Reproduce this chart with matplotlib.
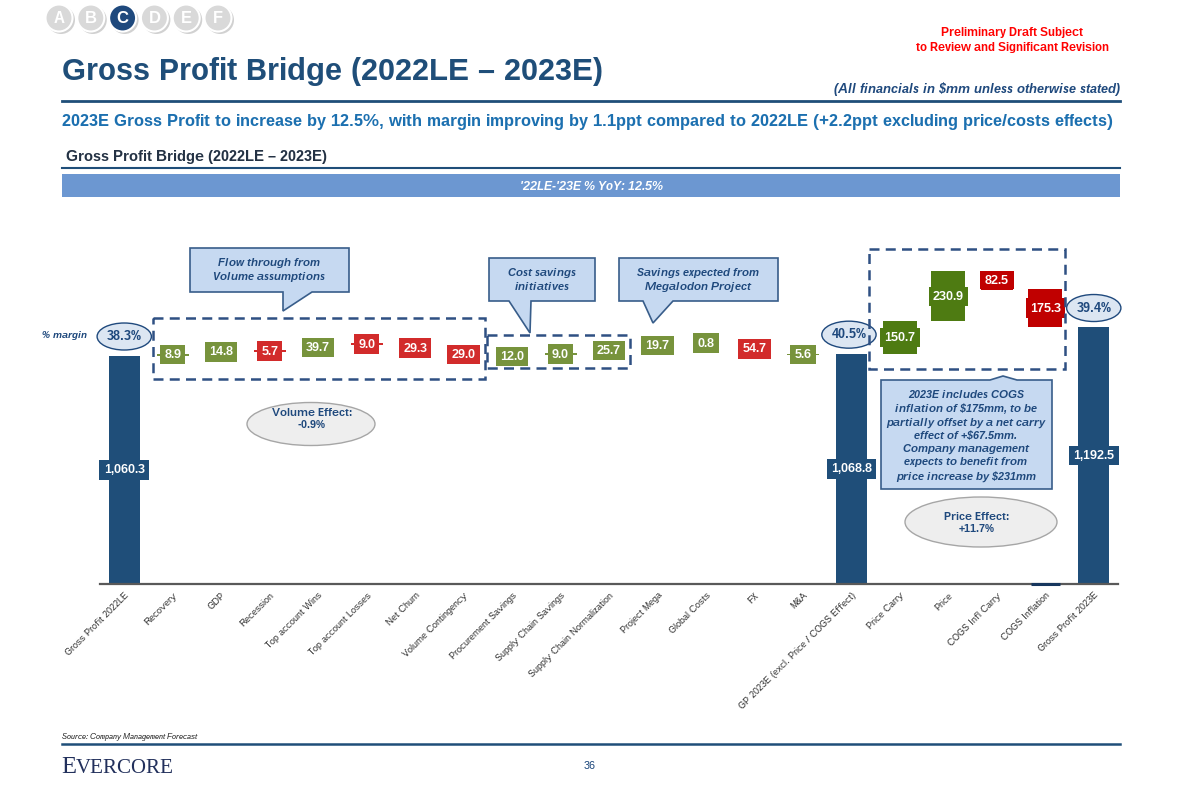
import matplotlib
matplotlib.use('Agg')
import matplotlib.pyplot as plt
import numpy as np
from matplotlib.patches import Rectangle, Ellipse, Polygon, Circle

plt.rcParams['font.family'] = ['Liberation Sans', 'DejaVu Sans']
plt.rcParams['text.hinting'] = 'default'
plt.rcParams['text.hinting_factor'] = 1

# ---------------- data ----------------
categories = ['Gross Profit 2022LE', 'Recovery', 'GDP', 'Recession', 'Top account Wins',
              'Top account Losses', 'Net Churn', 'Volume Contingency', 'Procurement Savings',
              'Supply Chain Savings', 'Supply Chain Normalization', 'Project Mega', 'Global Costs',
              'FX', 'M&A', 'GP 2023E (excl. Price / COGS Effect)', 'Price Carry', 'Price',
              'COGS Infl Carry', 'COGS Inflation', 'Gross Profit 2023E']
values = [1060.3, 8.9, 14.8, -5.7, 39.7, -9.0, -29.3, -29.0, 12.0, 9.0, 25.7, 19.7, 0.8,
          -54.7, 5.6, 1068.8, 150.7, 230.9, -82.5, -175.3, 1192.5]
total_flags = [1, 0, 0, 0, 0, 0, 0, 0, 0, 0, 0, 0, 0, 0, 0, 1, 0, 0, 0, 0, 1]
margin_labels = ['38.3%', '40.5%', '39.4%']
yoy_label = "'22LE-'23E % YoY: 12.5%"
volume_effect = 'Volume Effect:\n-0.9%'
price_effect = 'Price Effect:\n+11.7%'

# ---------------- style ----------------
NAVY = '#1F4E79'
TXT_BLUE = '#1F497D'
G_SMALL = '#77933C'
R_SMALL = '#D22B2B'
G_BIG = '#4E7B12'
R_BIG = '#C00000'
price_start = 16

W, H = 1180, 786
fig = plt.figure(figsize=(W / 100, H / 100), dpi=100, facecolor='white')

px_per_unit = 0.2155
ax_left, ax_right, ax_base, ax_top = 100, 1118, 584, 230
ax = fig.add_axes([ax_left / W, (H - ax_base) / H, (ax_right - ax_left) / W, (ax_base - ax_top) / H])
ax.set_xlim(-0.5, len(categories) - 0.5)
ax.set_ylim(0, (ax_base - ax_top) / px_per_unit)
for s in ['top', 'right', 'left']:
    ax.spines[s].set_visible(False)
ax.spines['bottom'].set_color('#595959')
ax.spines['bottom'].set_linewidth(1.6)
ax.set_yticks([])
ax.set_xticks(np.arange(len(categories)))
ax.set_xticklabels(categories, rotation=45, ha='right', va='top', rotation_mode='anchor',
                   fontsize=6.8, color='#262626')
ax.tick_params(axis='x', length=0, pad=5)
ax.set_facecolor('none')

running = 0.0
bottoms, heights, colors = [], [], []
for i, (v, t) in enumerate(zip(values, total_flags)):
    if t:
        b, h, c = 0.0, v, NAVY
        running = v
    else:
        if v >= 0:
            b, h = running, v
            c = G_BIG if i >= price_start else G_SMALL
        else:
            b, h = running + v, -v
            c = R_BIG if i >= price_start else R_SMALL
        running += v
    bottoms.append(b); heights.append(h); colors.append(c)

x = np.arange(len(categories))
widths = [0.64 if t else (0.7 if i >= price_start else 0.66) for i, t in enumerate(total_flags)]
ax.bar(x, heights, bottom=bottoms, width=widths, color=colors, edgecolor='none', zorder=2)

for i in range(len(categories)):
    v = values[i]
    lab = '{:,.1f}'.format(abs(v))
    ax.text(i, bottoms[i] + heights[i] / 2, lab, ha='center', va='center', color='white',
            fontsize=8.5, fontweight='bold', zorder=4,
            bbox=dict(boxstyle='square,pad=0.36', fc=colors[i], ec='none'))

# small dark mark at base under COGS Inflation
ax.plot([18.7, 19.3], [0, 0], color='#17375E', lw=2.2, solid_capstyle='butt', zorder=3, clip_on=False)

# margin ellipses above totals
tot_idx = [i for i, t in enumerate(total_flags) if t]
for k, i in enumerate(tot_idx):
    cy = values[i] + 19 / px_per_unit
    cx = i - (0.05 if k == 1 else 0)
    e = Ellipse((cx, cy), width=1.12, height=27 / px_per_unit,
                fc='#DCE6F2', ec=TXT_BLUE, lw=1.0, zorder=5, clip_on=False)
    ax.add_patch(e)
    ax.text(cx, cy, margin_labels[k], ha='center', va='center',
            fontsize=9.5, fontweight='bold', color=TXT_BLUE, zorder=6)

# ---------------- overlay (pixel coordinates) ----------------
ov = fig.add_axes([0, 0, 1, 1], facecolor='none')
ov.set_xlim(0, W); ov.set_ylim(H, 0); ov.axis('off')

# tab circles
letters = ['A', 'B', 'C', 'D', 'E', 'F']
for j, L in enumerate(letters):
    cx = 59 + j * 31.8
    ov.add_patch(Circle((cx + 2, 20), 14, fc='#9A9A9A', ec='none', alpha=0.45))
    fc = '#1F497D' if L == 'C' else '#D9D9D9'
    ov.add_patch(Circle((cx, 18), 13.5, fc=fc, ec='white', lw=1.5))
    ov.text(cx, 18.5, L, ha='center', va='center', color='white', fontsize=11.5, fontweight='bold')

ov.text(1012, 40, 'Preliminary Draft Subject\nto Review and Significant Revision', ha='center',
        va='center', color='#FF0000', fontsize=8.9, fontweight='bold', linespacing=1.42)
ov.text(62, 71, 'Gross Profit Bridge (2022LE \u2013 2023E)', ha='left', va='center',
        color=NAVY, fontsize=22.3, fontweight='bold')
ov.text(1120, 89, '(All financials in $mm unless otherwise stated)', ha='right', va='center',
        color=TXT_BLUE, fontsize=9.1, fontweight='bold', style='italic')
ov.plot([62, 1120], [101, 101], color=NAVY, lw=2)
ov.text(62, 122, '2023E Gross Profit to increase by 12.5%, with margin improving by 1.1ppt compared '
        'to 2022LE (+2.2ppt excluding price/costs effects)', ha='left', va='center',
        color='#1C70B0', fontsize=11.95, fontweight='bold')
ov.text(66, 157, 'Gross Profit Bridge (2022LE \u2013 2023E)', ha='left', va='center',
        color='#243244', fontsize=11.0, fontweight='bold')
ov.plot([62, 1120], [168, 168], color=NAVY, lw=1.5)
ov.add_patch(Rectangle((62, 174), 1058, 23, fc='#6C97D1', ec='none'))
ov.text(591, 186, yoy_label, ha='center', va='center', color='white', fontsize=8.9,
        fontweight='bold', style='italic')

ov.text(42, 336, '% margin', ha='left', va='center', color=TXT_BLUE, fontsize=7,
        style='italic', fontweight='bold')

# dashed group boxes
dash_kw = dict(fill=False, ec='#2F5083', lw=1.8, ls=(0, (4, 2.5)))
ov.add_patch(Rectangle((153, 318), 332, 61, **dash_kw))
ov.add_patch(Rectangle((487, 335), 143, 33, **dash_kw))
ov.add_patch(Rectangle((869, 249), 196, 120, **dash_kw))

# callouts
call_kw = dict(closed=True, fc='#C6D9F1', ec='#385D8A', lw=1.2, zorder=3)
ov.add_patch(Polygon([(190, 248), (349, 248), (349, 292), (312, 292), (283, 311), (283, 292),
                      (190, 292)], **call_kw))
ov.add_patch(Polygon([(489, 258), (595, 258), (595, 301), (531, 301), (530, 333), (509, 301),
                      (489, 301)], **call_kw))
ov.add_patch(Polygon([(619, 258), (778, 258), (778, 301), (673, 301), (653, 323), (643, 301),
                      (619, 301)], **call_kw))
ov.add_patch(Polygon([(881, 380), (990, 380), (1003, 376), (1017, 380), (1052, 380),
                      (1052, 489), (881, 489)], **call_kw))
ct = dict(ha='center', va='center', color=TXT_BLUE, fontsize=7.7, fontweight='bold',
          style='italic', zorder=4, linespacing=1.38)
ov.text(269, 270, 'Flow through from\nVolume assumptions', **ct)
ov.text(542, 280, 'Cost savings\ninitiatives', **ct)
ov.text(698, 280, 'Savings expected from\nMegalodon Project', **ct)
ov.text(966, 436, '2023E includes COGS\ninflation of $175mm, to be\npartially offset by a net carry\n'
        'effect of +$67.5mm.\nCompany management\nexpects to benefit from\nprice increase by $231mm',
        **ct)

# effect ellipses
ov.add_patch(Ellipse((311, 424), 128, 43, fc='#EEEEEE', ec='#A6A6A6', lw=1.0))
ov.text(312, 419, volume_effect, ha='center', va='center', color=TXT_BLUE, fontsize=7.6,
        fontweight='bold', linespacing=1.3)
ov.add_patch(Ellipse((981, 522), 152, 50, fc='#EEEEEE', ec='#A6A6A6', lw=1.0))
ov.text(977, 523, price_effect, ha='center', va='center', color=TXT_BLUE, fontsize=7.6,
        fontweight='bold', linespacing=1.3)

# footer
ov.text(62, 737, 'Source: Company Management Forecast', ha='left', va='center', color='#222222',
        fontsize=5.8, style='italic')
ov.plot([62, 1120], [744, 744], color=NAVY, lw=1.8)
ov.text(61, 773, 'E', ha='left', va='baseline', color='#22305C', fontsize=17.5,
        family='Liberation Serif')
ov.text(76, 773, 'VERCORE', ha='left', va='baseline', color='#22305C', fontsize=14.8,
        family='Liberation Serif')
ov.text(590, 766, '36', ha='center', va='center', color=TXT_BLUE, fontsize=8)

fig.savefig('out.png', dpi=100, facecolor='white')
